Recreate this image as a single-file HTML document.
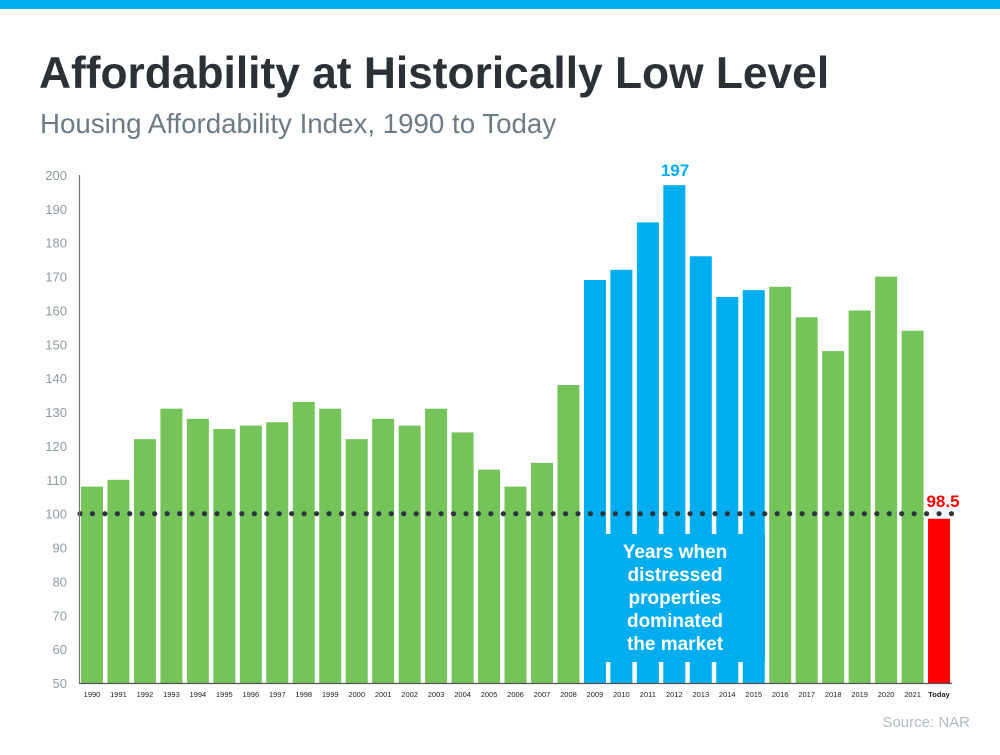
<!DOCTYPE html>
<html><head><meta charset="utf-8"><style>
body{margin:0;width:1000px;height:750px;background:#fff;overflow:hidden;font-family:"Liberation Sans",Arial,sans-serif}
</style></head><body>
<svg width="1000" height="750">
<rect x="0" y="0" width="1000" height="9" fill="#00aeef"/>
<text x="39" y="88" font-size="44.3" font-weight="bold" fill="#2b3137">Affordability at Historically Low Level</text>
<text x="40" y="133" font-size="27.7" fill="#6d7b84">Housing Affordability Index, 1990 to Today</text>
<g id="yticks"></g><g id="bars"></g><g id="dots"></g><g id="xlabels"></g>
<line x1="79.5" y1="175" x2="79.5" y2="683" stroke="#777" stroke-width="1.2"/>
<line x1="79" y1="683.5" x2="952" y2="683.5" stroke="#555" stroke-width="1.2"/>
<rect x="584" y="534" width="181" height="128" fill="#00aeef"/>
<text x="675" y="558" font-size="19" font-weight="bold" fill="#fff" text-anchor="middle"><tspan x="675">Years when</tspan><tspan x="675" dy="23">distressed</tspan><tspan x="675" dy="23">properties</tspan><tspan x="675" dy="23">dominated</tspan><tspan x="675" dy="23">the market</tspan></text>
<text x="675" y="176" font-size="17" font-weight="bold" fill="#00aeef" text-anchor="middle">197</text>
<text x="943" y="507" font-size="17" font-weight="bold" fill="#ff0000" text-anchor="middle">98.5</text>
<text x="970" y="727" font-size="15" fill="#b4bcc1" text-anchor="end">Source: NAR</text>
</svg>
<script>
const categories=["1990","1991","1992","1993","1994","1995","1996","1997","1998","1999","2000","2001","2002","2003","2004","2005","2006","2007","2008","2009","2010","2011","2012","2013","2014","2015","2016","2017","2018","2019","2020","2021","Today"];
const values=[108,110,122,131,128,125,126,127,133,131,122,128,126,131,124,113,108,115,138,169,172,186,197,176,164,166,167,158,148,160,170,154,98.5];
const yTicks=[50,60,70,80,90,100,110,120,130,140,150,160,170,180,190,200];
const refLine=100;
const NS="http://www.w3.org/2000/svg";
const y=v=>683-(v-50)*(508/150);
const xl=i=>81+i*26.47;
function mk(t,a,p){const e=document.createElementNS(NS,t);for(const k in a)e.setAttribute(k,a[k]);p.appendChild(e);return e;}
const gy=document.getElementById('yticks');
yTicks.forEach(t=>{const e=mk('text',{x:67,y:y(t)+5,'font-size':13,fill:'#8f9ba3','text-anchor':'end'},gy);e.textContent=t;

});
const gb=document.getElementById('bars'),gx=document.getElementById('xlabels');
values.forEach((v,i)=>{const c=categories[i];const col=c==="Today"?"#ff0000":(+c>=2009&&+c<=2015?"#00aeef":"#74c45a");
const r=mk('rect',{x:xl(i),y:y(v),width:22,height:683-y(v),fill:col},gb);


const t=mk('text',{x:xl(i)+11,y:697,'font-size':7.5,fill:'#222','text-anchor':'middle','font-weight':c==="Today"?'bold':'normal'},gx);t.textContent=c;

});
const gd=document.getElementById('dots');
for(let x=80;x<=952;x+=12.45){const d=mk('circle',{cx:x,cy:y(refLine),r:2.6,fill:'#2d333a'},gd);

}
</script>
</body></html>
